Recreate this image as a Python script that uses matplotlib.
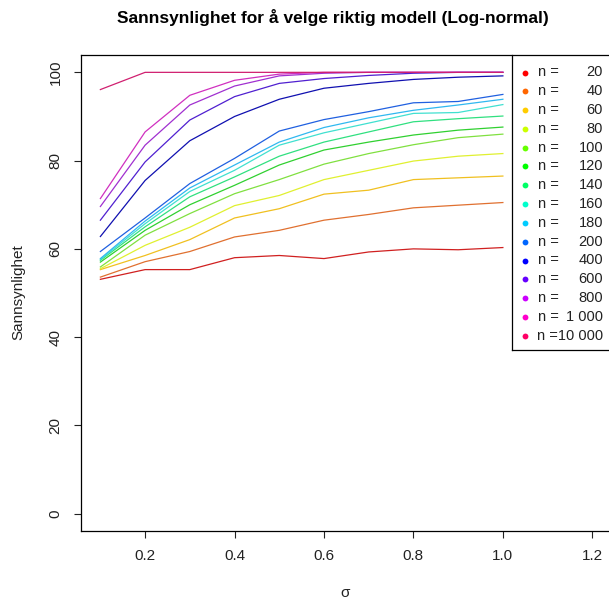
import matplotlib
matplotlib.use("Agg")
import matplotlib.pyplot as plt
from matplotlib.lines import Line2D

plt.rcParams['font.family'] = ['Liberation Sans', 'DejaVu Sans']

sigma = [0.1, 0.2, 0.3, 0.4, 0.5, 0.6, 0.7, 0.8, 0.9, 1.0]
n_values = [20, 40, 60, 80, 100, 120, 140, 160, 180, 200, 400, 600, 800, 1000, 10000]
n_labels = ["20", "40", "60", "80", "100", "120", "140", "160", "180", "200",
            "400", "600", "800", "1 000", "10 000"]

p_20 = [53.1, 55.3, 55.3, 58.0, 58.5, 57.8, 59.3, 60.0, 59.8, 60.3]
p_40 = [53.6, 57.1, 59.4, 62.7, 64.2, 66.5, 67.8, 69.3, 69.9, 70.5]
p_60 = [55.3, 58.5, 62.1, 67.0, 69.1, 72.4, 73.3, 75.7, 76.1, 76.5]
p_80 = [55.5, 60.8, 64.9, 69.8, 72.1, 75.7, 77.8, 79.9, 81.0, 81.6]
p_100 = [55.9, 63.1, 68.0, 72.5, 75.7, 79.2, 81.6, 83.6, 85.2, 86.0]
p_120 = [57.0, 64.2, 70.0, 74.4, 79.0, 82.4, 84.2, 85.8, 86.9, 87.6]
p_140 = [57.4, 65.0, 71.8, 76.3, 81.0, 84.2, 86.5, 88.8, 89.5, 90.1]
p_160 = [57.6, 65.7, 73.0, 77.8, 83.5, 86.3, 88.5, 90.7, 90.9, 92.7]
p_180 = [57.8, 66.3, 73.8, 79.0, 84.2, 87.5, 89.7, 91.4, 92.6, 93.9]
p_200 = [59.4, 67.0, 74.8, 80.5, 86.7, 89.3, 91.1, 93.1, 93.4, 95.0]
p_400 = [62.8, 75.5, 84.5, 90.0, 93.9, 96.4, 97.5, 98.4, 98.9, 99.2]
p_600 = [66.5, 79.7, 89.2, 94.5, 97.5, 98.6, 99.3, 99.8, 100.0, 100.0]
p_800 = [69.6, 83.5, 92.6, 96.9, 99.2, 99.8, 100.0, 100.0, 100.0, 100.0]
p_1000 = [71.4, 86.5, 94.8, 98.2, 99.6, 100.0, 100.0, 100.0, 100.0, 100.0]
p_10000 = [96.1, 100.0, 100.0, 100.0, 100.0, 100.0, 100.0, 100.0, 100.0, 100.0]

series = [p_20, p_40, p_60, p_80, p_100, p_120, p_140, p_160, p_180, p_200,
          p_400, p_600, p_800, p_1000, p_10000]

colors = ["#FF0000", "#FF6600", "#FFCC00", "#CCFF00", "#66FF00", "#00FF00",
          "#00FF66", "#00FFCC", "#00CCFF", "#0066FF", "#0000FF", "#6600FF",
          "#CC00FF", "#FF00CC", "#FF0066"]
line_colors = ["#D02020", "#E07030", "#F0C020", "#E0F030", "#80E040", "#30D030",
               "#30E080", "#40E0D0", "#30B8F0", "#2060E0", "#1010B0", "#5020D0",
               "#A030D0", "#D030C0", "#D02070"]

W, H = 609, 602
fig = plt.figure(figsize=(W / 100, H / 100), dpi=100)

def fx(px):
    return px / W

def fy(py):
    return 1 - py / H

ax_l, ax_r, ax_t, ax_b = 80.7, 612.0, 54.7, 531.3
ax = fig.add_axes([fx(ax_l), fy(ax_b), (ax_r - ax_l) / W, (ax_b - ax_t) / H])

for vals, c in zip(series, line_colors):
    ax.plot(sigma, vals, color=c, lw=0.9, solid_joinstyle='miter')

ax.set_xlim(0.056, 1.244)
ax.set_ylim(-4, 104)
ax.set_xticks([0.2, 0.4, 0.6, 0.8, 1.0, 1.2])
ax.set_xticklabels(["0.2", "0.4", "0.6", "0.8", "1.0", "1.2"])
ax.set_yticks([0, 20, 40, 60, 80, 100])
ax.set_yticklabels(["0", "20", "40", "60", "80", "100"], rotation=90, va='center')
ax.tick_params(axis='both', direction='out', length=5, width=0.8, labelsize=11,
               colors='#222222')
ax.tick_params(axis='x', pad=8)
ax.tick_params(axis='y', pad=8)
for s in ['top', 'right']:
    ax.spines[s].set_visible(False)
ax.spines['left'].set_linewidth(0.9)
ax.spines['bottom'].set_linewidth(0.9)

# box lines (R bty="o")
fig.add_artist(Line2D([fx(ax_l), fx(ax_r)], [fy(ax_t), fy(ax_t)], color='black', lw=0.9))
fig.add_artist(Line2D([fx(ax_r), fx(ax_r)], [fy(ax_t), fy(ax_b)], color='black', lw=0.9))

fig.text(fx(333), fy(18), "Sannsynlighet for å velge riktig modell (Log-normal)",
         ha='center', va='center', fontsize=12.5, fontweight='bold')
fig.text(fx(18), fy(292), "Sannsynlighet", rotation=90, ha='center', va='center',
         fontsize=11, color='#222222')
fig.text(fx(345), fy(593), "σ", ha='center', va='center', fontsize=11, color='#222222')

# legend
lg_l, lg_t, lg_b = 511.7, 54.7, 350.0
fig.add_artist(Line2D([fx(lg_l), fx(lg_l)], [fy(lg_t), fy(lg_b)], color='black', lw=0.9))
fig.add_artist(Line2D([fx(lg_l), fx(ax_r)], [fy(lg_b), fy(lg_b)], color='black', lw=0.9))
row0, dy = 72.5, 18.8
for i, (lab, c) in enumerate(zip(n_labels, colors)):
    yy = row0 + i * dy
    fig.add_artist(Line2D([fx(524.5)], [fy(yy)], marker='o', markersize=4.2,
                          color=c, markeredgewidth=0, linestyle='none'))
    if len(lab) >= 6:
        fig.text(fx(603), fy(yy), "n =" + lab, ha='right', va='center',
                 fontsize=10.5, color='#222222')
    else:
        fig.text(fx(537.5), fy(yy), "n =", ha='left', va='center', fontsize=10.5,
                 color='#222222')
        fig.text(fx(603), fy(yy), lab, ha='right', va='center', fontsize=10.5,
                 color='#222222')

fig.savefig("out.png", dpi=100)
